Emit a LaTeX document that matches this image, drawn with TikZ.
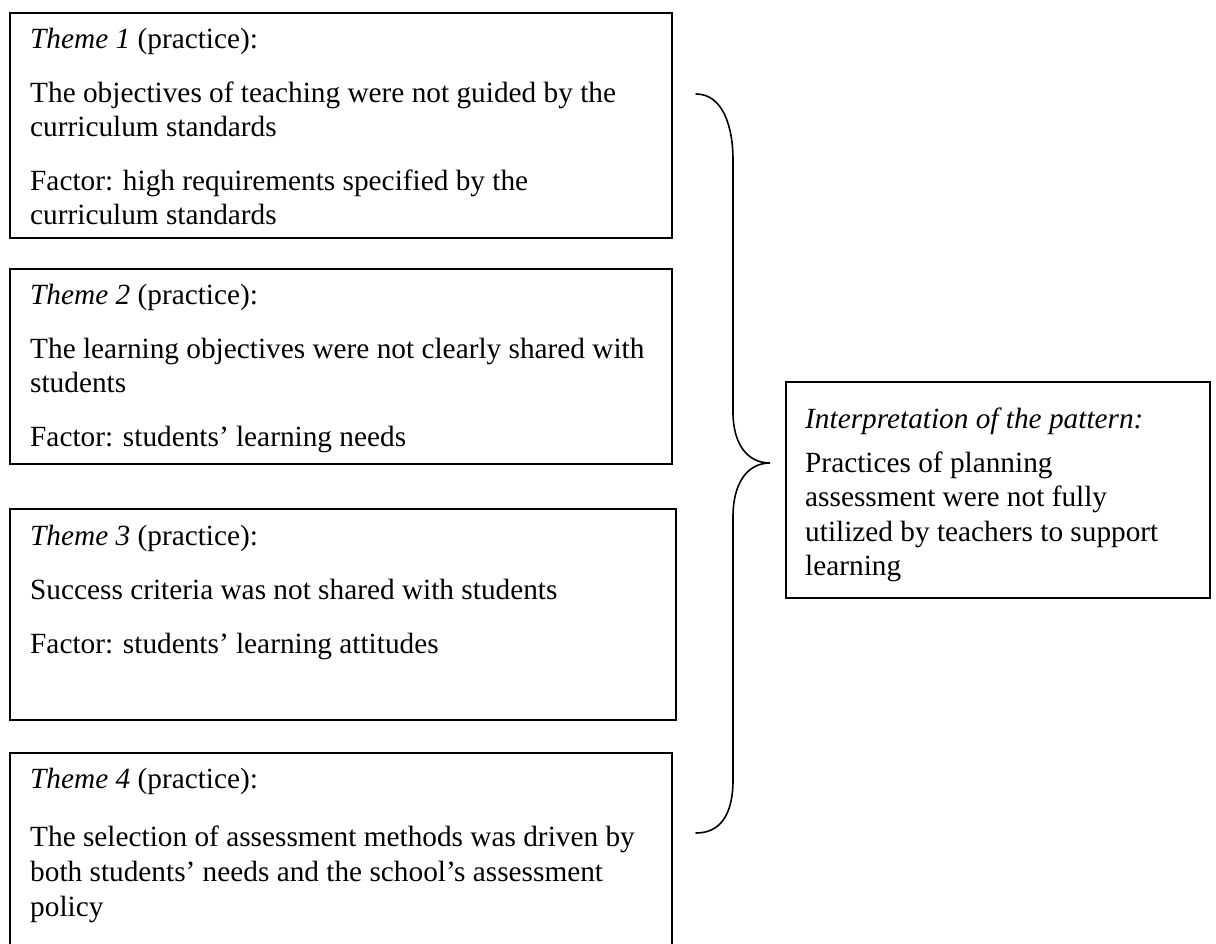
\documentclass[tikz,border=0pt]{standalone}
\usepackage{fontspec}
\setmainfont{Liberation Serif}
\begin{document}
\begin{tikzpicture}[x=1pt,y=-1pt,
  box/.style={draw=black, line width=1.6pt, rectangle, inner sep=0pt, anchor=north west},
  txt/.style={inner sep=0pt, anchor=base west, align=left},
  brace/.style={draw=black, line width=1.6pt, line cap=round}]
\newcommand{\boxtext}[3]{\parbox[t]{#1}{\raggedright\fontsize{29.3}{#2}\selectfont #3}}
\useasboundingbox (0,0) rectangle (1216,944);
\clip (0,0) rectangle (1216,944);
% boxes
\node[box, minimum width=662pt, minimum height=225pt] (b1) at (9,12) {};
\node[box, minimum width=662pt, minimum height=195pt] (b2) at (9,268) {};
\node[box, minimum width=666pt, minimum height=211pt] (b3) at (9,508) {};
\node[box, minimum width=662pt, minimum height=200pt] (b4) at (9,752) {};
\node[box, minimum width=424pt, minimum height=216pt] (r) at (785,381) {};
% texts
\node[txt] (t1) at (30,49) {\boxtext{630pt}{34pt}{\textit{Theme 1} (practice):\par\vspace{20pt}
The objectives of teaching were not guided by the\\curriculum standards\par\vspace{20pt}
Factor: high requirements specified by the\\curriculum standards}};
\node[txt] (t2) at (30,305) {\boxtext{630pt}{34pt}{\textit{Theme 2} (practice):\par\vspace{20pt}
The learning objectives were not clearly shared with\\students\par\vspace{20pt}
Factor: students’ learning needs}};
\node[txt] (t3) at (30,545) {\boxtext{630pt}{34pt}{\textit{Theme 3} (practice):\par\vspace{20pt}
Success criteria was not shared with students\par\vspace{20pt}
Factor: students’ learning attitudes}};
\node[txt] (t4) at (30,788) {\boxtext{630pt}{35pt}{\textit{Theme 4} (practice):\par\vspace{23pt}
The selection of assessment methods was driven by\\both students’ needs and the school’s assessment\\policy}};
\node[txt] (tr) at (805,428) {\boxtext{400pt}{34.5pt}{\textit{Interpretation of the pattern:}\par\vspace{9.5pt}
Practices of planning\\assessment were not fully\\utilized by teachers to support\\learning}};
% brace
\coordinate (br1) at (696,94);
\coordinate (br2) at (733,160);
\coordinate (br3) at (733,412);
\coordinate (tip) at (770,463);
\coordinate (br4) at (733,517);
\coordinate (br5) at (733,780);
\coordinate (br6) at (696,833);
\draw[brace] (br1) .. controls (722,94) and (733,125) .. (br2)
  -- (br3) .. controls (733,445) and (748,463) .. (tip)
  .. controls (748,463) and (733,482) .. (br4)
  -- (br5) .. controls (733,815) and (720,833) .. (br6);
\end{tikzpicture}
\end{document}
